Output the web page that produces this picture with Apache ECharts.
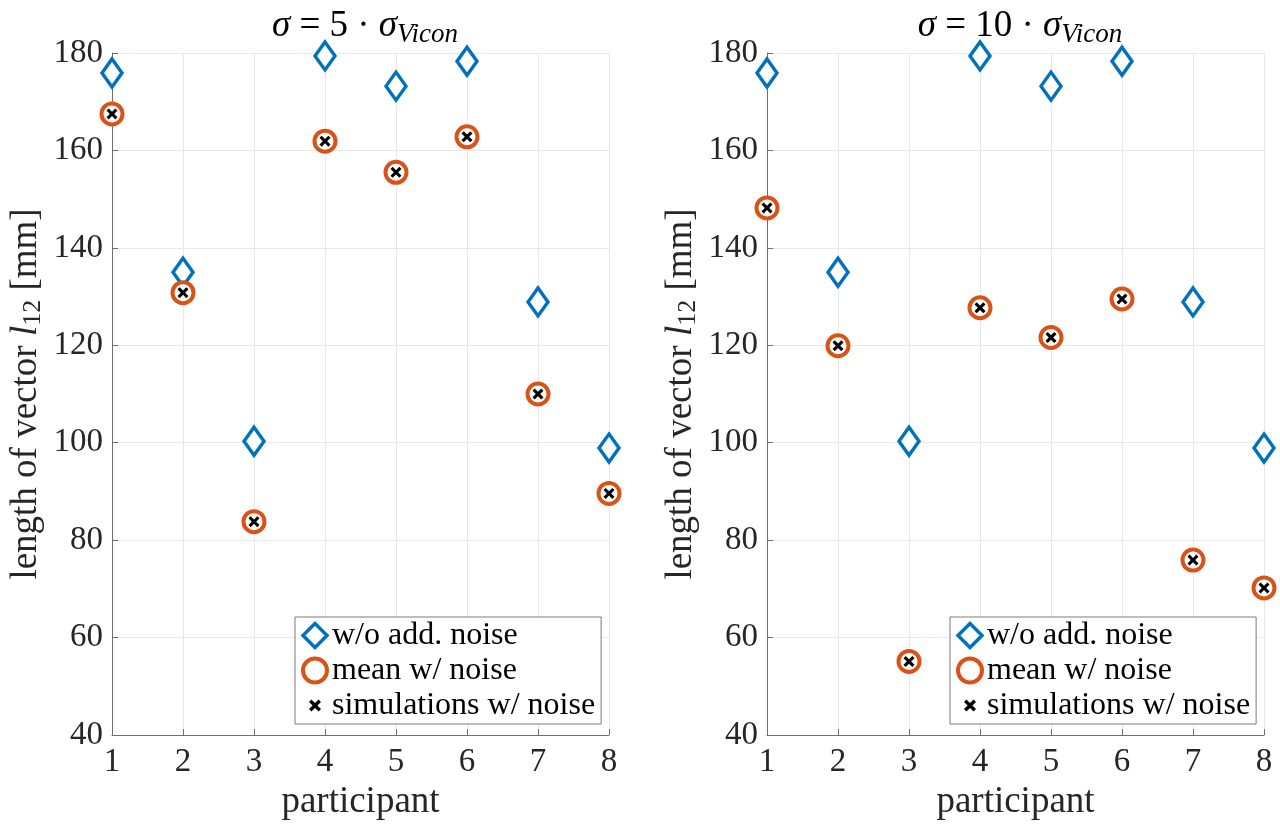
<!DOCTYPE html>
<html>
<head>
<meta charset="utf-8">
<script src="https://cdn.jsdelivr.net/npm/echarts@6/dist/echarts.min.js"></script>
<style>
html,body{margin:0;padding:0;background:#fff;}
#chart{width:1280px;height:827px;}
</style>
</head>
<body>
<div id="chart"></div>
<script>
// ---- data ----
const participants = [1, 2, 3, 4, 5, 6, 7, 8];
const noNoise = [175.9, 135.0, 100.3, 179.4, 173.2, 178.3, 128.9, 98.9];
const meanNoise5 = [167.5, 130.8, 83.8, 161.9, 155.5, 162.8, 110.0, 89.6];
const simNoise5 = [167.5, 130.8, 83.8, 161.9, 155.5, 162.8, 110.0, 89.6];
const meanNoise10 = [148.2, 119.9, 55.1, 127.7, 121.6, 129.5, 75.9, 70.2];
const simNoise10 = [148.2, 119.9, 55.1, 127.7, 121.6, 129.5, 75.9, 70.2];
const yTicks = [40, 60, 80, 100, 120, 140, 160, 180];
const seriesNames = ['w/o add. noise', 'mean w/ noise', 'simulations w/ noise'];
const titleFactors = ['5', '10'];

const FONT = '"Liberation Serif", "DejaVu Serif", serif';
const BLUE = '#0072BD';
const ORANGE = '#D95319';
const CROSS = 'path://M0,2L2,0L5,3L8,0L10,2L7,5L10,8L8,10L5,7L2,10L0,8L3,5Z';
// same cross with an invisible, larger bounding box so that the legend icon is drawn smaller
const CROSS_LEGEND = 'path://M-5,-5L-5,-5L-5,-5ZM15,15L15,15L15,15ZM0,2L2,0L5,3L8,0L10,2L7,5L10,8L8,10L5,7L2,10L0,8L3,5Z';

function pairs(vals) { return participants.map((p, i) => [p, vals[i]]); }

const grids = [
  { left: 112, width: 497, top: 53, bottom: 92 },
  { left: 767, width: 497, top: 53, bottom: 92 }
];

function xAx(idx) {
  return {
    type: 'value', gridIndex: idx, min: 1, max: 8, interval: 1,
    name: 'participant', nameLocation: 'middle', nameGap: 47,
    nameTextStyle: { fontFamily: FONT, fontSize: 37, color: '#262626' },
    axisLine: { show: true, onZero: false, lineStyle: { color: '#6f6f6f', width: 1 } },
    axisTick: { show: true, inside: true, length: 6, lineStyle: { color: '#6f6f6f' } },
    axisLabel: { fontFamily: FONT, fontSize: 33, color: '#262626', margin: 11 },
    splitLine: { show: true, lineStyle: { color: '#e8e8e8', width: 1 } }
  };
}
function yAx(idx) {
  return {
    type: 'value', gridIndex: idx, min: yTicks[0], max: yTicks[yTicks.length - 1], interval: 20,
    name: '{n|length of vector }{i|l}{s|12}{n| [mm]}', nameLocation: 'middle', nameGap: 66, nameRotate: 90,
    nameTextStyle: {
      fontFamily: FONT, fontSize: 37, color: '#262626',
      rich: {
        n: { fontFamily: FONT, fontSize: 37, color: '#262626' },
        i: { fontFamily: FONT, fontSize: 37, fontStyle: 'italic', color: '#262626' },
        s: { fontFamily: FONT, fontSize: 26, color: '#262626', padding: [14, 0, 0, 0] }
      }
    },
    axisLine: { show: true, onZero: false, lineStyle: { color: '#6f6f6f', width: 1 } },
    axisTick: { show: true, inside: true, length: 6, lineStyle: { color: '#6f6f6f' } },
    axisLabel: { fontFamily: FONT, fontSize: 33, color: '#262626', margin: 9 },
    splitLine: { show: true, lineStyle: { color: '#e8e8e8', width: 1 } }
  };
}

function seriesFor(idx, mean, sim) {
  return [
    { name: seriesNames[0], type: 'scatter', xAxisIndex: idx, yAxisIndex: idx, data: pairs(noNoise),
      symbol: 'diamond', symbolSize: [20, 28],
      itemStyle: { color: '#fff', borderColor: BLUE, borderWidth: 3.5, opacity: 1 } },
    { name: seriesNames[1], type: 'scatter', xAxisIndex: idx, yAxisIndex: idx, data: pairs(mean),
      symbol: 'circle', symbolSize: 21,
      itemStyle: { color: '#fff', borderColor: ORANGE, borderWidth: 4, opacity: 1 } },
    { name: seriesNames[2], type: 'scatter', xAxisIndex: idx, yAxisIndex: idx, data: pairs(sim),
      symbol: CROSS, symbolSize: 11,
      itemStyle: { color: '#000', opacity: 1 } }
  ];
}

function legendFor(left) {
  return {
    orient: 'vertical', left: left, top: 617,
    padding: [2, 6, 2, 6], itemGap: 2, itemWidth: 24, itemHeight: 24,
    borderColor: '#7a7a7a', borderWidth: 1, backgroundColor: '#fff',
    selectedMode: false,
    textStyle: { fontFamily: FONT, fontSize: 32, color: '#000', lineHeight: 33 },
    data: [
      { name: seriesNames[0], icon: 'diamond', itemStyle: { color: '#fff', borderColor: BLUE, borderWidth: 3.5 } },
      { name: seriesNames[1], icon: 'circle', itemStyle: { color: '#fff', borderColor: ORANGE, borderWidth: 4 } },
      { name: seriesNames[2], icon: CROSS_LEGEND, itemStyle: { color: '#000', borderWidth: 0 } }
    ]
  };
}
function titleFor(center, factor) {
  return {
    text: '{i|σ}{n| = ' + factor + ' · }{i|σ}{s|Vicon}',
    left: center, top: 0, textAlign: 'center',
    textStyle: {
      fontFamily: FONT, fontSize: 37, fontWeight: 'normal', color: '#000',
      rich: {
        n: { fontFamily: FONT, fontSize: 37, color: '#000' },
        i: { fontFamily: FONT, fontSize: 37, fontStyle: 'italic', color: '#000' },
        s: { fontFamily: FONT, fontSize: 27, fontStyle: 'italic', color: '#000', padding: [16, 0, 0, 0] }
      }
    }
  };
}

const chart = echarts.init(document.getElementById('chart'));
chart.setOption({
  animation: false,
  backgroundColor: '#fff',
  title: [titleFor(360, titleFactors[0]), titleFor(1015, titleFactors[1])],
  grid: grids,
  xAxis: [xAx(0), xAx(1)],
  yAxis: [yAx(0), yAx(1)],
  legend: [legendFor(295), legendFor(950)],
  series: [...seriesFor(0, meanNoise5, simNoise5), ...seriesFor(1, meanNoise10, simNoise10)]
});
</script>
</body>
</html>
